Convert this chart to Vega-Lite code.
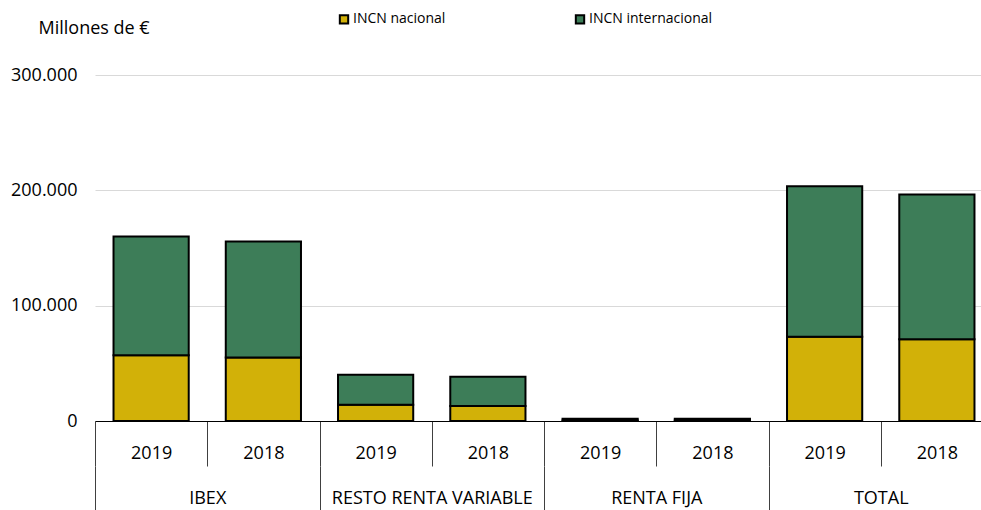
{
  "$schema": "https://vega.github.io/schema/vega-lite/v6.json",
  "width": 886,
  "height": 346,
  "autosize": {"type": "none"},
  "padding": {"left": 95, "top": 75, "right": 0, "bottom": 89},
  "config": {"font": "Open Sans", "view": {"stroke": null}},
  "data": {
    "values": [
      {"grupo": "IBEX", "barra": "IBEX|2019", "serie": "INCN nacional", "valor": 57000},
      {"grupo": "IBEX", "barra": "IBEX|2019", "serie": "INCN internacional", "valor": 103000},
      {"grupo": "IBEX", "barra": "IBEX|2018", "serie": "INCN nacional", "valor": 55000},
      {"grupo": "IBEX", "barra": "IBEX|2018", "serie": "INCN internacional", "valor": 100700},
      {"grupo": "RESTO RENTA VARIABLE", "barra": "RESTO RENTA VARIABLE|2019", "serie": "INCN nacional", "valor": 14100},
      {"grupo": "RESTO RENTA VARIABLE", "barra": "RESTO RENTA VARIABLE|2019", "serie": "INCN internacional", "valor": 26000},
      {"grupo": "RESTO RENTA VARIABLE", "barra": "RESTO RENTA VARIABLE|2018", "serie": "INCN nacional", "valor": 13000},
      {"grupo": "RESTO RENTA VARIABLE", "barra": "RESTO RENTA VARIABLE|2018", "serie": "INCN internacional", "valor": 25400},
      {"grupo": "RENTA FIJA", "barra": "RENTA FIJA|2019", "serie": "INCN nacional", "valor": 500},
      {"grupo": "RENTA FIJA", "barra": "RENTA FIJA|2019", "serie": "INCN internacional", "valor": 1500},
      {"grupo": "RENTA FIJA", "barra": "RENTA FIJA|2018", "serie": "INCN nacional", "valor": 500},
      {"grupo": "RENTA FIJA", "barra": "RENTA FIJA|2018", "serie": "INCN internacional", "valor": 1500},
      {"grupo": "TOTAL", "barra": "TOTAL|2019", "serie": "INCN nacional", "valor": 73100},
      {"grupo": "TOTAL", "barra": "TOTAL|2019", "serie": "INCN internacional", "valor": 130500},
      {"grupo": "TOTAL", "barra": "TOTAL|2018", "serie": "INCN nacional", "valor": 70800},
      {"grupo": "TOTAL", "barra": "TOTAL|2018", "serie": "INCN internacional", "valor": 125500}
    ]
  },
  "layer": [
    {
      "mark": {"type": "bar", "stroke": "black", "strokeWidth": 2, "width": {"band": 0.67}},
      "encoding": {
        "x": {
          "field": "barra", "type": "nominal", "sort": null,
          "scale": {"range": [0, 898], "paddingInner": 0, "paddingOuter": 0},
          "axis": {
            "title": null, "orient": "bottom",
            "labelExpr": "split(datum.value, '|')[1]",
            "labelAngle": 0, "labelFontSize": 18, "labelColor": "black",
            "labelBaseline": "middle", "labelPadding": -13,
            "tickBand": "extent", "tickSize": 45, "tickColor": "#404040", "tickWidth": 1,
            "domainColor": "black", "domainWidth": 1
          }
        },
        "y": {
          "field": "valor", "type": "quantitative", "stack": "zero",
          "scale": {"domain": [0, 300000]},
          "axis": {
            "values": [0, 100000, 200000, 300000],
            "labelExpr": "replace(format(datum.value, ','), ',', '.')",
            "domain": false, "ticks": false, "labelPadding": 18,
            "labelFontSize": 18, "labelColor": "black",
            "grid": true, "gridColor": "#D9D9D9", "gridWidth": 1,
            "title": "Millones de €", "titleAngle": 0, "titleX": -57, "titleY": -47,
            "titleAlign": "left", "titleBaseline": "middle", "titleFontSize": 18,
            "titleFontWeight": "normal", "titleColor": "black"
          }
        },
        "color": {
          "field": "serie", "type": "nominal",
          "sort": ["INCN nacional", "INCN internacional"],
          "scale": {"domain": ["INCN nacional", "INCN internacional"], "range": ["#D2B108", "#3D7D58"]},
          "legend": {
            "orient": "none", "legendX": 242, "legendY": -63, "direction": "horizontal",
            "title": null, "symbolType": "square", "symbolSize": 70,
            "symbolStrokeColor": "black", "symbolStrokeWidth": 2, "symbolOpacity": 1,
            "labelFontSize": 14, "labelColor": "black", "labelOffset": 2, "columnPadding": 125
          }
        }
      }
    },
    {
      "mark": {"type": "rule", "strokeOpacity": 0},
      "encoding": {
        "x": {
          "field": "grupo", "type": "nominal", "sort": null,
          "scale": {"range": [0, 898], "paddingInner": 0, "paddingOuter": 0},
          "axis": {
            "title": null, "orient": "bottom", "offset": 45, "domain": false,
            "labelAngle": 0, "labelFontSize": 18, "labelColor": "black", "labelLimit": 400,
            "labelBaseline": "middle", "labelPadding": -12,
            "tickBand": "extent", "tickSize": 44, "tickColor": "#404040", "tickWidth": 1
          }
        }
      }
    }
  ],
  "resolve": {"scale": {"x": "independent"}, "axis": {"x": "independent"}}
}
